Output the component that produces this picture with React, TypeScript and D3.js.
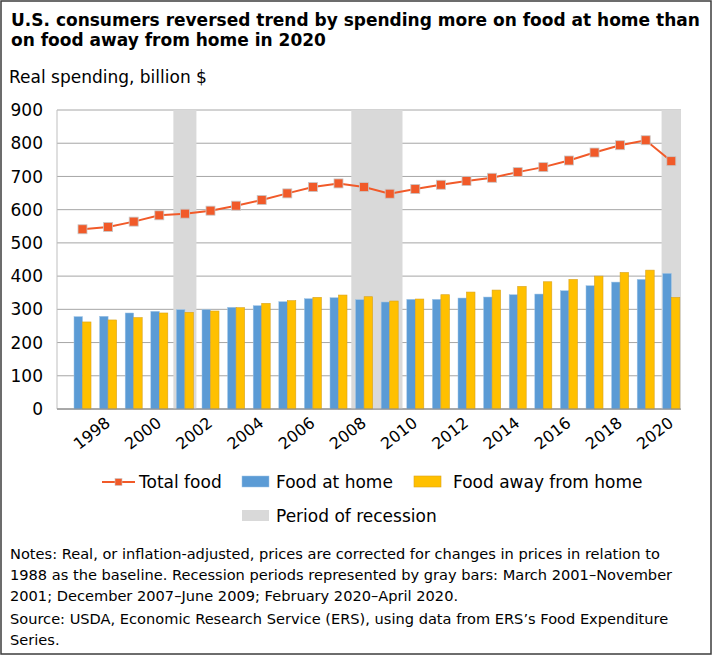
import React from "react";
import * as d3 from "d3";

const years = [1997,1998,1999,2000,2001,2002,2003,2004,2005,2006,2007,2008,2009,2010,2011,2012,2013,2014,2015,2016,2017,2018,2019,2020];
const totalFood = [541,548,564,583,588,597,612,629,649,668,679,668,648,662,675,686,696,713,728,748,772,794,809,746];
const foodAtHome = [278,279,289,294,299,299,306,311,323,332,335,329,322,330,330,334,337,344,346,356,371,382,390,408];
const foodAway = [262,268,275,289,291,295,305,318,326,336,343,338,325,331,344,352,358,369,383,390,400,411,418,336];
const yTicks = [0,100,200,300,400,500,600,700,800,900];
const xLabelYears = [1998,2000,2002,2004,2006,2008,2010,2012,2014,2016,2018,2020];
const recessionStart = [2000.55, 2007.5, 2019.62];
const recessionEnd = [2001.45, 2009.5, 2020.5];

const titleLines = [
  "U.S. consumers reversed trend by spending more on food at home than",
  "on food away from home in 2020",
];
const noteLines = [
  "Notes: Real, or inflation-adjusted, prices are corrected for changes in prices in relation to",
  "1988 as the baseline. Recession periods represented by gray bars: March 2001\u2013November",
  "2001; December 2007\u2013June 2009; February 2020\u2013April 2020.",
];
const sourceLines = [
  "Source: USDA, Economic Research Service (ERS), using data from ERS\u2019s Food Expenditure",
  "Series.",
];

const W = 712, H = 655;
const plotL = 57, plotR = 681, plotT = 110, plotB = 409;
const FONT = "'DejaVu Sans', Verdana, sans-serif";
const ORANGE = "#F15A29";
const BLUE = "#5B9BD5";
const YELLOW = "#FFC000";
const GRAY = "#D9D9D9";

export default function App() {
  const y = d3.scaleLinear().domain([0, 900]).range([plotB, plotT]);
  const xBand = d3.scaleBand<number>().domain(years).range([69.7, 684.1]).padding(0);
  const center = (yr: number) => (xBand(yr) as number) + xBand.bandwidth() / 2;
  const xLin = d3.scaleLinear().domain([years[0], years[years.length - 1]]).range([center(years[0]), center(years[years.length - 1])]);
  const inner = d3.scaleBand<string>().domain(["home", "away"]).range([-8.5, 8.5]).padding(0);

  const line = d3.line<number>().x((_, i) => center(years[i])).y((d) => y(d));

  return (
    <div style={{ position: "fixed", left: 0, top: 0 }}>
      <svg width={W} height={H} style={{ display: "block", background: "#fff" }} fontFamily={FONT}>
        <rect x={1} y={1} width={W - 2} height={H - 2} fill="#fff" stroke="#3d3d3d" strokeWidth={1.5} />
        {titleLines.map((t, i) => (
          <text key={i} x={11} y={26 + i * 20} fontSize={17} fontWeight="bold" fill="#000">{t}</text>
        ))}
        <text x={9} y={83} fontSize={17} fill="#000">Real spending, billion $</text>

        {/* gridlines */}
        {yTicks.map((t) => (
          <line key={t} x1={plotL} x2={plotR} y1={y(t)} y2={y(t)} stroke={t === 0 ? "#8c8c8c" : "#a6a6a6"} strokeWidth={1} />
        ))}
        <line x1={plotL} x2={plotL} y1={plotT} y2={plotB} stroke="#bfbfbf" strokeWidth={1} />

        {/* recession bands */}
        {recessionStart.map((s, i) => {
          const x0 = Math.max(plotL, xLin(s));
          const x1 = Math.min(plotR, xLin(recessionEnd[i]));
          return <rect key={i} x={x0} y={plotT} width={x1 - x0} height={plotB - plotT} fill={GRAY} />;
        })}

        {/* bars */}
        {years.map((yr, i) => (
          <g key={yr}>
            <rect x={center(yr) + (inner("home") as number)} y={y(foodAtHome[i])} width={inner.bandwidth()} height={plotB - y(foodAtHome[i])} fill={BLUE} stroke="#9dc3e6" strokeWidth={0.5} />
            <rect x={center(yr) + (inner("away") as number)} y={y(foodAway[i])} width={inner.bandwidth()} height={plotB - y(foodAway[i])} fill={YELLOW} stroke="#d9a21b" strokeWidth={0.6} />
          </g>
        ))}
        <line x1={plotL} x2={plotR} y1={plotB} y2={plotB} stroke="#8c8c8c" strokeWidth={1} />

        {/* total food line */}
        <path d={line(totalFood) as string} fill="none" stroke={ORANGE} strokeWidth={2} />
        {totalFood.map((v, i) => (
          <rect key={i} x={center(years[i]) - 4.5} y={y(v) - 4.5} width={9} height={9} fill={ORANGE} stroke="#c8c8c8" strokeWidth={0.8} />
        ))}

        {/* y tick labels */}
        {yTicks.map((t) => (
          <text key={t} x={43} y={y(t)} dy="0.36em" textAnchor="end" fontSize={17} fill="#000">{t}</text>
        ))}

        {/* x tick labels */}
        {xLabelYears.map((yr) => (
          <text key={yr} transform={`translate(${center(yr) - 4},${416}) rotate(-38)`} textAnchor="end" dy="0.72em" fontSize={16} fill="#000">{yr}</text>
        ))}

        {/* legend */}
        <g fontSize={17} fill="#000">
          <line x1={102} x2={135} y1={482} y2={482} stroke={ORANGE} strokeWidth={2} />
          <rect x={115} y={478.5} width={7} height={7} fill={ORANGE} stroke="#c8c8c8" strokeWidth={0.6} />
          <text x={139} y={488}>Total food</text>
          <rect x={242} y={476} width={27} height={11} fill={BLUE} stroke="#9dc3e6" strokeWidth={0.5} />
          <text x={276} y={488}>Food at home</text>
          <rect x={414} y={476} width={27} height={11} fill={YELLOW} stroke="#d9a21b" strokeWidth={0.6} />
          <text x={453} y={488}>Food away from home</text>
          <rect x={242} y={510} width={27} height={11} fill={GRAY} />
          <text x={276} y={522}>Period of recession</text>
        </g>

        {/* notes */}
        <g fontSize={14.6} fill="#000">
          {noteLines.map((t, i) => (
            <text key={i} x={10} y={559 + i * 21}>{t}</text>
          ))}
          {sourceLines.map((t, i) => (
            <text key={i} x={10} y={624 + i * 21}>{t}</text>
          ))}
        </g>
      </svg>
    </div>
  );
}
